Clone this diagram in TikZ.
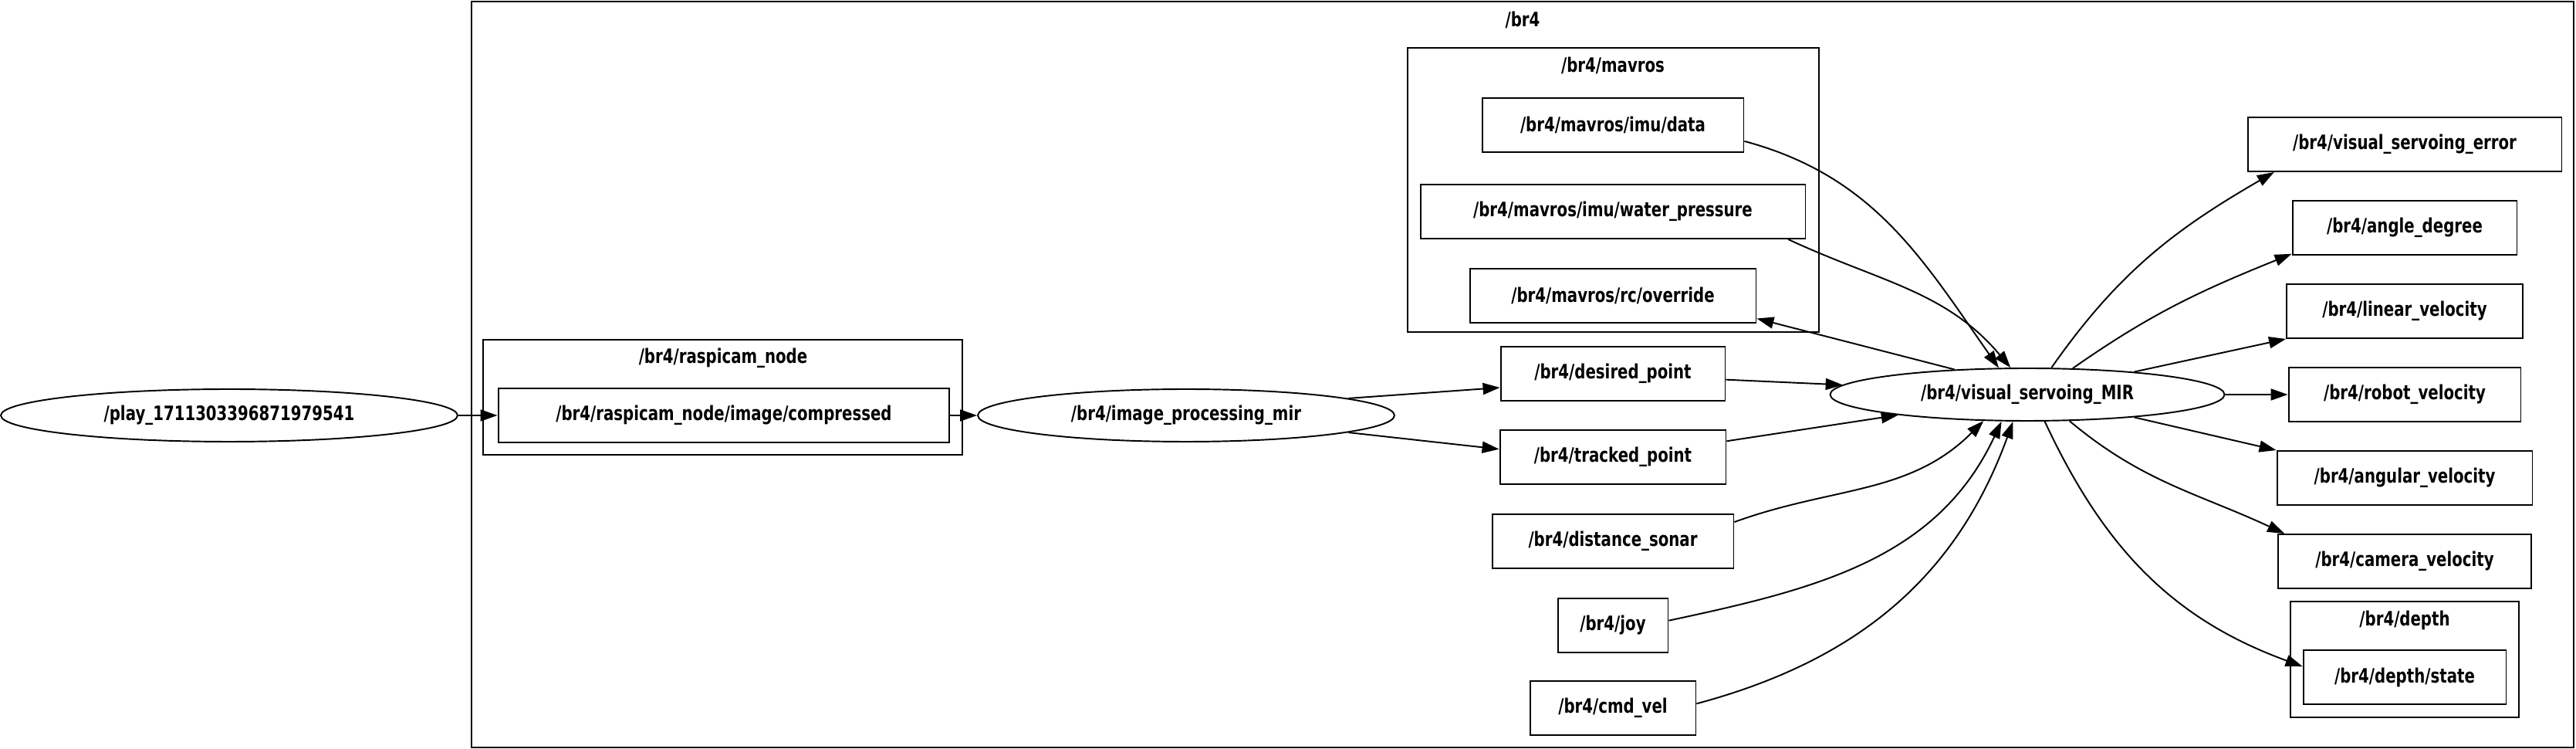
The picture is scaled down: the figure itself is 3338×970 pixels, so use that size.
\documentclass[tikz,border=0pt]{standalone}
\usepackage{fontspec}
\newfontfamily\rosfont{DejaVu Sans}[FakeStretch=0.77]
\usetikzlibrary{shapes.geometric,arrows.meta}
\tikzset{
  topic/.style={draw,line width=1.1pt,rectangle,inner sep=0pt,minimum height=1.4cm},
  rosnode/.style={draw,line width=1.1pt,ellipse,minimum height=1.36cm,inner sep=0pt},
  cluster/.style={draw,line width=1.1pt},
  flow/.style={-{Triangle[length=0.44cm,width=0.3cm]},line width=1.1pt},
  every node/.style={font=\rosfont\bfseries\fontsize{14.6}{17}\selectfont}
}
\begin{document}
\begin{tikzpicture}[x=0.02cm,y=0.02cm]
  \useasboundingbox (0,0) rectangle (3338,970);
  % clusters
  \draw[cluster] (611,2) rectangle (3335,968);
  \node (lbr4) at (1973,944) {/br4};
  \draw[cluster] (626,381) rectangle (1247,530);
  \node (lcam) at (937,506) {/br4/raspicam\_node};
  \draw[cluster] (1824,540) rectangle (2357,908);
  \node (lmav) at (2090,885) {/br4/mavros};
  \draw[cluster] (2968,41) rectangle (3264,191);
  \node (ldep) at (3116,167) {/br4/depth};
  % ros nodes
  \node[rosnode,minimum width=11.84cm] (play) at (297,432) {/play\_1711303396871979541};
  \node[rosnode,minimum width=10.8cm] (improc) at (1537,432) {/br4/image\_processing\_mir};
  \node[rosnode,minimum width=10.22cm] (mir) at (2627,459) {/br4/visual\_servoing\_MIR};
  % topics
  \node[topic,minimum width=11.7cm] (comp) at (938,432) {/br4/raspicam\_node/image/compressed};
  \node[topic,minimum width=6.78cm] (imu) at (2090,808) {/br4/mavros/imu/data};
  \node[topic,minimum width=9.98cm] (water) at (2090,696) {/br4/mavros/imu/water\_pressure};
  \node[topic,minimum width=7.42cm] (rc) at (2090,587) {/br4/mavros/rc/override};
  \node[topic,minimum width=5.82cm] (desired) at (2090,486) {/br4/desired\_point};
  \node[topic,minimum width=5.86cm] (tracked) at (2090,378) {/br4/tracked\_point};
  \node[topic,minimum width=6.26cm] (sonar) at (2090,269) {/br4/distance\_sonar};
  \node[topic,minimum width=2.86cm] (joy) at (2090,160) {/br4/joy};
  \node[topic,minimum width=4.3cm] (cmdvel) at (2090,53) {/br4/cmd\_vel};
  \node[topic,minimum width=8.14cm] (vserr) at (3116,783) {/br4/visual\_servoing\_error};
  \node[topic,minimum width=5.82cm] (angdeg) at (3116,675) {/br4/angle\_degree};
  \node[topic,minimum width=6.12cm] (linvel) at (3116,567) {/br4/linear\_velocity};
  \node[topic,minimum width=6.02cm] (robvel) at (3116,459) {/br4/robot\_velocity};
  \node[topic,minimum width=6.62cm] (angvel) at (3116,351) {/br4/angular\_velocity};
  \node[topic,minimum width=6.56cm] (camvel) at (3116,243) {/br4/camera\_velocity};
  \node[topic,minimum width=5.26cm] (depstate) at (3116,93) {/br4/depth/state};
  % edges
  \draw[flow] (play) -- (comp);
  \draw[flow] (comp) -- (improc);
  \draw[flow] (improc.6) -- (desired.187);
  \draw[flow] (improc.-6) -- (tracked.176);
  \draw[flow] (desired.-3) -- (mir.177);
  \draw[flow] (tracked.8) -- (mir.-171);
  \draw[flow] (sonar.9) to[out=20,in=-135] (mir.-149);
  \draw[flow] (joy.5) to[out=12,in=-115] (mir.-134);
  \draw[flow] (cmdvel.3) to[out=15,in=-110] (mir.-118);
  \draw[flow] (imu.-7) to[out=-15,in=125] (mir.137);
  \draw[flow] (water.-9) to[out=-25,in=130] (mir.122);
  \draw[flow] (mir.161) -- (rc.-9);
  \draw[flow] (mir.48) to[out=55,in=-150] (vserr.-168);
  \draw[flow] (mir.30) to[out=35,in=-158] (angdeg.-167);
  \draw[flow] (mir.12) -- (linvel.south west);
  \draw[flow] (mir) -- (robvel);
  \draw[flow] (mir.-12) -- (angvel.north west);
  \draw[flow] (mir.-32) to[out=-40,in=155] (camvel.167);
  \draw[flow] (mir.-57) to[out=-65,in=160] (depstate.174);
\end{tikzpicture}
\end{document}
